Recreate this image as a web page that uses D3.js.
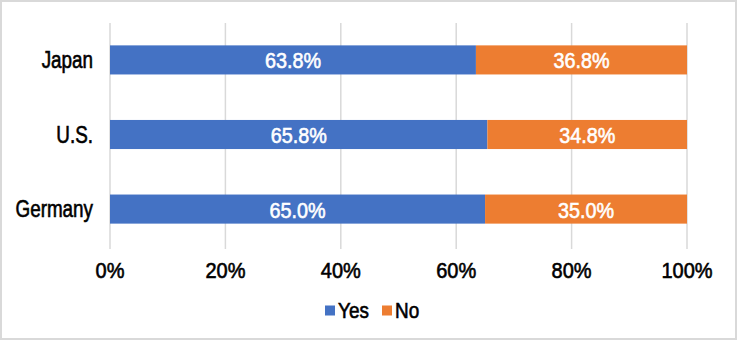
<!DOCTYPE html>
<html><head><meta charset="utf-8">
<script src="https://cdn.jsdelivr.net/npm/d3@7"></script>
<style>
body{margin:0;background:#fff;}
text{font-family:"Liberation Sans",Arial,sans-serif;}
</style></head>
<body><svg id="c" width="737" height="340"></svg>
<script>
const categories = ["Japan", "U.S.", "Germany"];
const yesValues = [63.8, 65.8, 65.0];
const noValues = [36.8, 34.8, 35.0];
const seriesNames = ["Yes", "No"];
const seriesColors = ["#4472C4", "#ED7D31"];
const tickValues = [0, 0.2, 0.4, 0.6, 0.8, 1.0];

const svg = d3.select("#c");
svg.append("rect").attr("x",1).attr("y",1).attr("width",735).attr("height",338)
  .attr("fill","#fff").attr("stroke","#d9d9d9").attr("stroke-width",2);

const x = d3.scaleLinear().domain([0,1]).range([110,687]);
const y = d3.scaleBand().domain(categories).range([23,246]).paddingInner(0.61).paddingOuter(0.3);

function ctext(parent, tx, ty, str, size, sx, anchor, color){
  return parent.append("text")
    .attr("transform",`translate(${tx},${ty}) scale(${sx},1)`)
    .attr("text-anchor",anchor).attr("font-size",size)
    .attr("fill",color).attr("stroke",color).attr("stroke-width",0.6)
    .text(str);
}

svg.append("g").selectAll("line").data(tickValues).join("line")
  .attr("x1",d=>x(d)).attr("x2",d=>x(d)).attr("y1",23).attr("y2",249)
  .attr("stroke","#d9d9d9").attr("stroke-width",1.5);

const rows = categories.map((c,i)=>{
  const t = yesValues[i]+noValues[i];
  return {cat:c, yes:yesValues[i], no:noValues[i], fy:yesValues[i]/t};
});

const g = svg.append("g");
rows.forEach(r=>{
  const segs = [
    {x0:0, x1:r.fy, v:r.yes, c:seriesColors[0]},
    {x0:r.fy, x1:1, v:r.no, c:seriesColors[1]}
  ];
  segs.forEach(s=>{
    g.append("rect").attr("x",x(s.x0)).attr("width",x(s.x1)-x(s.x0))
      .attr("y",y(r.cat)).attr("height",y.bandwidth()).attr("fill",s.c);
  });
  segs.forEach(s=>{
    ctext(g,(x(s.x0)+x(s.x1))/2, y(r.cat)+y.bandwidth()/2+8.5, s.v.toFixed(1)+"%", 22, 0.9, "middle", "#fff");
  });
});

const yl = svg.append("g");
categories.forEach(c=>{
  ctext(yl, 93, y(c)+y.bandwidth()/2+8, c, 23, 0.82, "end", "#000");
});

const fmt = d3.format(".0%");
const xl = svg.append("g");
tickValues.forEach(t=>{
  ctext(xl, x(t), 277.5, fmt(t), 21.5, 0.93, "middle", "#000");
});

const leg = svg.append("g");
const legX = [325, 382];
seriesNames.forEach((n,i)=>{
  leg.append("rect").attr("x",legX[i]).attr("y",305.5).attr("width",10).attr("height",10).attr("fill",seriesColors[i]);
  ctext(leg, legX[i]+13, 318, n, 21.5, 0.88, "start", "#000");
});
</script></body></html>
